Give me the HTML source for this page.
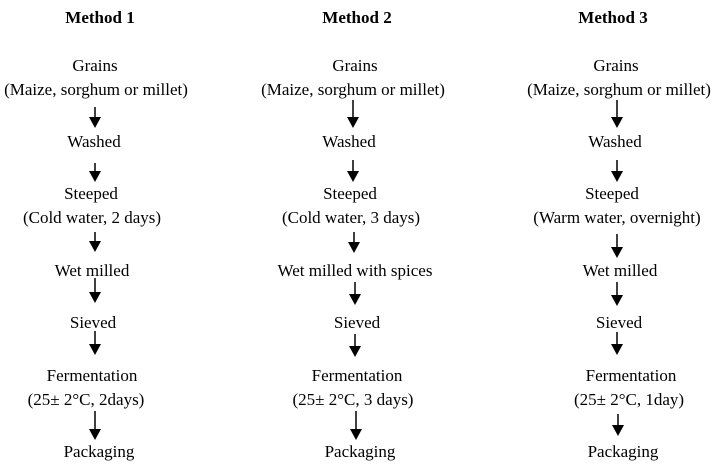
<!DOCTYPE html>
<html><head><style>html,body{margin:0;padding:0;background:#fff}svg{display:block}text{font-family:"Liberation Serif",serif;font-size:17px;fill:#000;text-anchor:middle}</style></head><body>
<svg width="719" height="470" viewBox="0 0 719 470">
<text x="100" y="23" font-weight="bold" font-size="16">Method 1</text><text x="357" y="23" font-weight="bold" font-size="16">Method 2</text><text x="613" y="23" font-weight="bold" font-size="16">Method 3</text>
<text x="95" y="71">Grains</text><text x="96" y="95">(Maize, sorghum or millet)</text>
<text x="94" y="147">Washed</text><text x="91" y="199">Steeped</text><text x="92" y="223">(Cold water, 2 days)</text>
<text x="92" y="276">Wet milled</text><text x="93" y="328">Sieved</text><text x="92" y="381">Fermentation</text><text x="86" y="405">(25± 2°C, 2days)</text><text x="99" y="457">Packaging</text>
<text x="355" y="71">Grains</text><text x="353" y="95">(Maize, sorghum or millet)</text>
<text x="349" y="147">Washed</text><text x="350" y="199">Steeped</text><text x="351" y="223">(Cold water, 3 days)</text>
<text x="355" y="276">Wet milled with spices</text><text x="357" y="328">Sieved</text><text x="357" y="381">Fermentation</text><text x="353" y="405">(25± 2°C, 3 days)</text><text x="360" y="457">Packaging</text>
<text x="616" y="71">Grains</text><text x="619" y="95">(Maize, sorghum or millet)</text>
<text x="615" y="147">Washed</text><text x="612" y="199">Steeped</text><text x="617" y="223">(Warm water, overnight)</text>
<text x="620" y="276">Wet milled</text><text x="619" y="328">Sieved</text><text x="631" y="381">Fermentation</text><text x="629" y="405">(25± 2°C, 1day)</text><text x="623" y="457">Packaging</text>
<g stroke="#000" stroke-width="1.5">
<line x1="95" y1="107" x2="95" y2="120"/><line x1="95" y1="163" x2="95" y2="174"/><line x1="95" y1="232" x2="95" y2="244"/><line x1="95" y1="278" x2="95" y2="295"/><line x1="95" y1="331" x2="95" y2="347"/><line x1="95" y1="411" x2="95" y2="432"/>
<line x1="353" y1="100" x2="353" y2="120"/><line x1="353" y1="160" x2="353" y2="174"/><line x1="354" y1="232" x2="354" y2="245"/><line x1="355" y1="282" x2="355" y2="297"/><line x1="355" y1="334" x2="355" y2="349"/><line x1="356" y1="411" x2="356" y2="432"/>
<line x1="617" y1="100" x2="617" y2="120"/><line x1="617" y1="160" x2="617" y2="174"/><line x1="617" y1="234" x2="617" y2="250"/><line x1="617" y1="282" x2="617" y2="298"/><line x1="617" y1="332" x2="617" y2="347"/><line x1="618" y1="414" x2="618" y2="428"/>
</g>
<g fill="#000">
<polygon points="89,117 101,117 95,128"/><polygon points="89,171 101,171 95,182"/><polygon points="89,241 101,241 95,252"/><polygon points="89,292 101,292 95,303"/><polygon points="89,344 101,344 95,355"/><polygon points="89,429 101,429 95,440"/>
<polygon points="347,117 359,117 353,128"/><polygon points="347,171 359,171 353,182"/><polygon points="348,242 360,242 354,253"/><polygon points="349,294 361,294 355,305"/><polygon points="349,346 361,346 355,357"/><polygon points="350,429 362,429 356,440"/>
<polygon points="611,117 623,117 617,128"/><polygon points="611,171 623,171 617,182"/><polygon points="611,247 623,247 617,258"/><polygon points="611,295 623,295 617,306"/><polygon points="611,344 623,344 617,355"/><polygon points="612,425 624,425 618,436"/>
</g>
</svg>
</body></html>
